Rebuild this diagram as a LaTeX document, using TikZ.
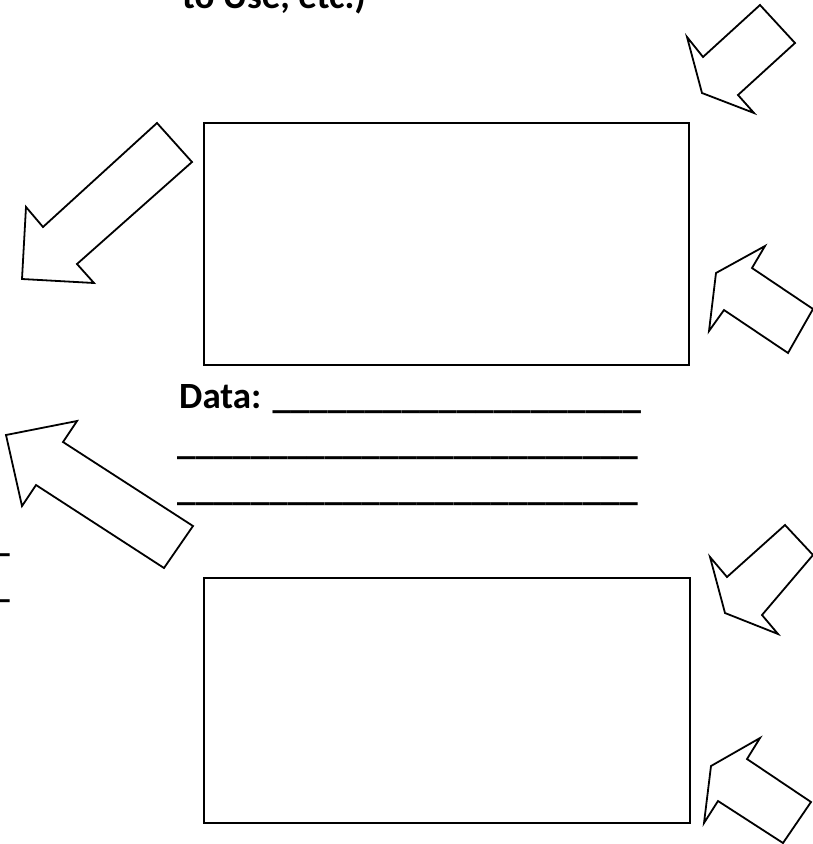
\documentclass[tikz,border=0pt]{standalone}
\usepackage{fontspec}
\setmainfont{Carlito}
\begin{document}
\begin{tikzpicture}[x=1pt,y=-1pt,
  blockarrow/.style={draw=black,line width=1.8pt,line join=miter,fill=white},
  panel/.style={draw=black,line width=2.2pt,fill=white,inner sep=0pt},
  worksheet/.style={font=\fontsize{37}{44}\selectfont\bfseries,inner sep=0pt}]
\useasboundingbox (0,0) rectangle (813,844);
\clip (0,0) rectangle (813,844);

% heading tail running off the top edge
\node[worksheet,anchor=base west] (heading) at (182,8) {to Use, etc.)};

% the two drawing panels
\node[panel,minimum width=485pt,minimum height=242pt,anchor=north west] (boxtop) at (203,122) {};
\node[panel,minimum width=486pt,minimum height=245pt,anchor=north west] (boxbottom) at (203,577) {};

% data lines between the panels
\node[worksheet,anchor=base west] (data1) at (179,408) {Data: \_\_\_\_\_\_\_\_\_\_\_\_\_\_\_\_\_\_\_\_};
\node[worksheet,anchor=base west] (data2) at (177,454) {\_\_\_\_\_\_\_\_\_\_\_\_\_\_\_\_\_\_\_\_\_\_\_\_\_};
\node[worksheet,anchor=base west] (data3) at (177,500) {\_\_\_\_\_\_\_\_\_\_\_\_\_\_\_\_\_\_\_\_\_\_\_\_\_};

% line ends running off the left edge
\node[worksheet,anchor=base east] (stub1) at (10,551) {\_\_};
\node[worksheet,anchor=base east] (stub2) at (10,597) {\_\_};

% block arrows
\draw[blockarrow] (760,5) -- (795,43) -- (738,95) -- (754,113) -- (702,93) -- (687,37) -- (703,57) -- cycle;
\draw[blockarrow] (157,123) -- (192,162) -- (77,264) -- (94,283) -- (22,279) -- (26,207) -- (43,227) -- cycle;
\draw[blockarrow] (765,246) -- (752,268) -- (813,309) -- (788,353) -- (724,310) -- (709,331) -- (716,273) -- cycle;
\draw[blockarrow] (77,421) -- (63,442) -- (193,526) -- (164,568) -- (36,485) -- (22,506) -- (6,435) -- cycle;
\draw[blockarrow] (785,525) -- (813,555) -- (762,615) -- (778,634) -- (725,613) -- (710,557) -- (727,577) -- cycle;
\draw[blockarrow] (760,738) -- (747,759) -- (811,802) -- (783,843) -- (718,801) -- (704,823) -- (711,766) -- cycle;
\end{tikzpicture}
\end{document}
